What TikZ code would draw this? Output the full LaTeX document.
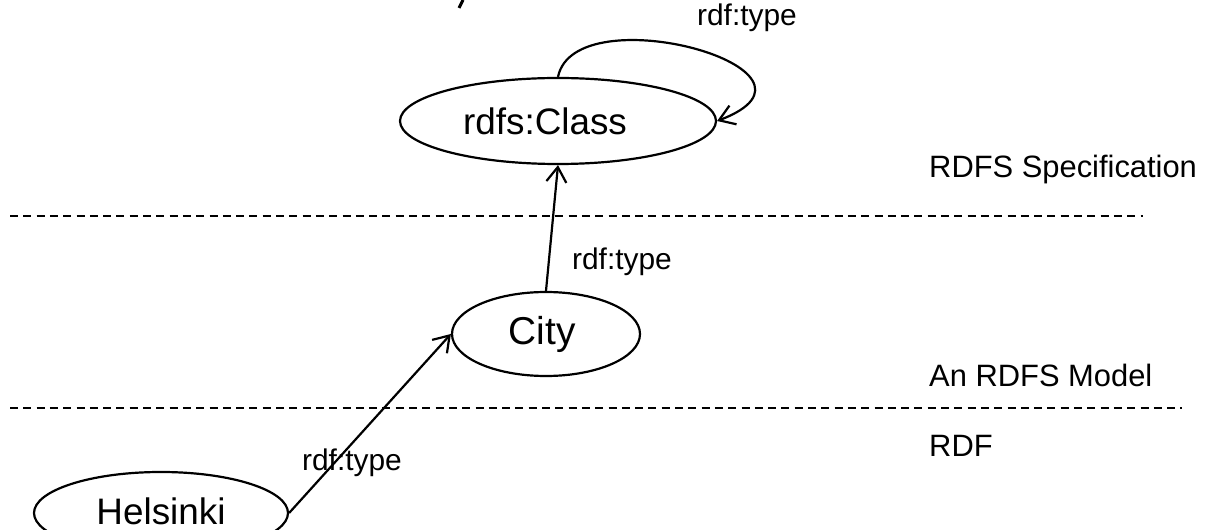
\documentclass[tikz,border=0pt]{standalone}
\usepackage{fontspec}
\setmainfont{Liberation Sans}
\usetikzlibrary{shapes.geometric,arrows.meta}
\begin{document}
\begin{tikzpicture}[x=1bp,y=-1bp,
  thing/.style={ellipse,draw,line width=2.2bp,inner sep=0pt,font=\fontsize{37}{37}\selectfont},
  typeof/.style={line width=2.2bp,-{Straight Barb[length=15bp,width=20bp]}},
  lbl/.style={inner sep=0pt,font=\fontsize{30}{30}\selectfont},
  layer/.style={inner sep=0pt,anchor=west,font=\fontsize{31}{31}\selectfont},
  divider/.style={line width=2bp,dash pattern=on 8bp off 5.3bp}]
\useasboundingbox (0,0) rectangle (1210,530);
\fill[white] (0,0) rectangle (1210,530);

% descender of the heading above the frame
\draw[line width=3bp] (459,8) -- (463,0);

% layer separators
\coordinate (d1a) at (10,216);
\coordinate (d1b) at (1143,216);
\coordinate (d2a) at (10,408);
\coordinate (d2b) at (1182,408);
\draw[divider] (d1a) -- (d1b);
\draw[divider] (d2a) -- (d2b);

% layer names
\node[layer] (spec) at (929,170) {RDFS Specification};
\node[layer] (model) at (929,375) {An RDFS Model};
\node[layer] (rdf) at (929,446) {RDF};

% resources
\node[thing,minimum width=316bp,minimum height=86bp] (cls) at (558,121) {\kern-26bp rdfs:Class};
\node[thing,minimum width=188bp,minimum height=84bp,font=\fontsize{39}{39}\selectfont] (city) at (546,334) {\kern-8bp City};
\node[thing,minimum width=254bp,minimum height=82bp,text height=27bp,text depth=5bp,
      font=\fontsize{37}{37}\selectfont] (hel) at (161,513) {Helsinki};

% rdf:type statements
\draw[typeof] (cls.north) .. controls +(17,-83) and +(134,-51) .. (cls.east);
\draw[typeof] (city.north) -- (cls.south);
\draw[typeof] (hel.east) -- (city.west);

\node[lbl] (t1) at (747,18) {rdf:type};
\node[lbl] (t2) at (622,262) {rdf:type};
\node[lbl] (t3) at (352,463) {rdf:type};
\end{tikzpicture}
\end{document}
